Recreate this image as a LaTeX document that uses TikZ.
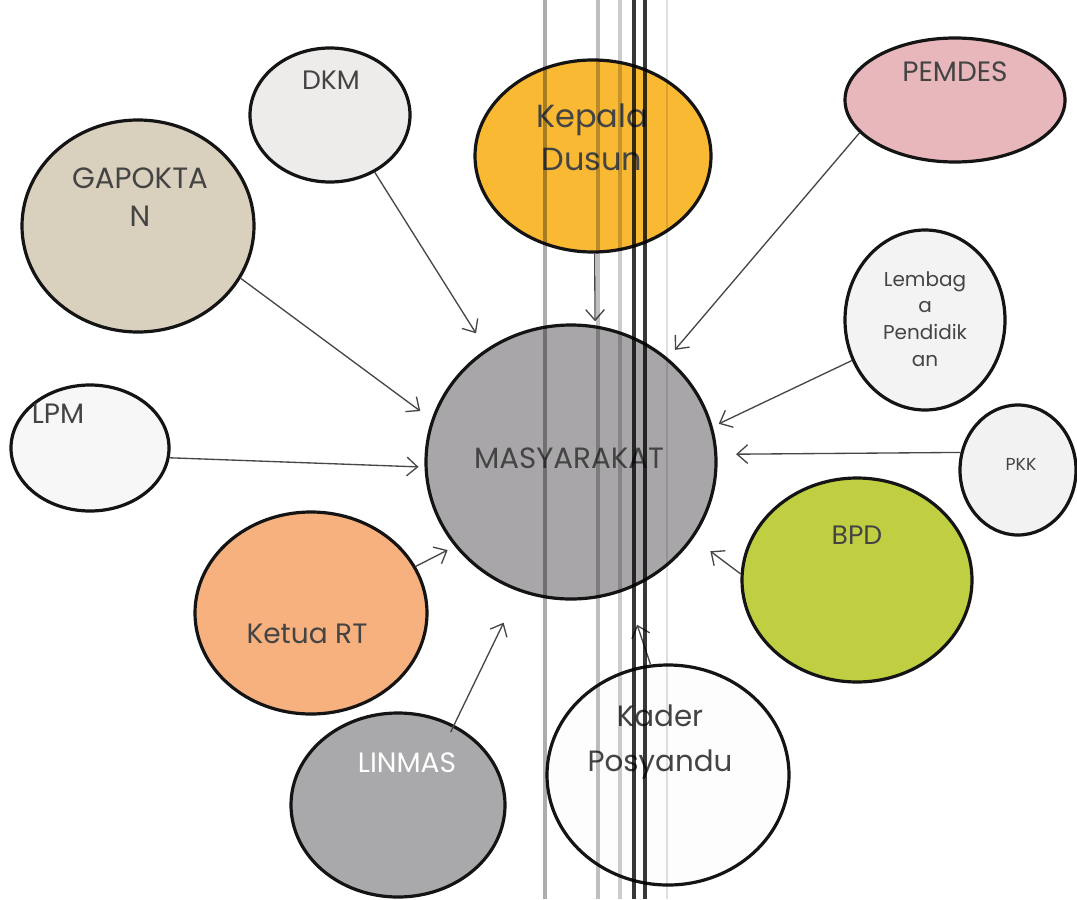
\documentclass[tikz,border=0pt]{standalone}
\usepackage{fontspec}
\setmainfont{Poppins}
\usetikzlibrary{shapes.geometric,arrows.meta}
\definecolor{cKD}{HTML}{F9B933}
\definecolor{cDKM}{HTML}{EEECEB}
\definecolor{cGAP}{HTML}{DAD0BE}
\definecolor{cPEM}{HTML}{E8B7BB}
\definecolor{cLEM}{HTML}{F3F3F3}
\definecolor{cPKK}{HTML}{F2F2F2}
\definecolor{cBPD}{HTML}{C0CF42}
\definecolor{cM}{HTML}{A8A6A8}
\definecolor{cLPM}{HTML}{F7F7F7}
\definecolor{cRT}{HTML}{F6B17F}
\definecolor{cLIN}{HTML}{A9A8AA}
\definecolor{cKAD}{HTML}{FDFDFD}
\definecolor{txt}{HTML}{444444}
\begin{document}
\begin{tikzpicture}[x=0.75pt,y=-0.75pt,
  blob/.style={ellipse,draw=black!92,line width=2.4pt,inner sep=0pt},
  lbl/.style={text=txt,align=center,inner sep=0pt},
  arr/.style={draw=black!72,line width=1pt,-{Straight Barb[length=8pt,width=14pt,line width=1pt]}},
  scanline/.style={blend mode=multiply}]
\fill[white] (0,0) rectangle (1077,899);
\path[use as bounding box] (0,0) rectangle (1077,899);
% circles
\node[blob,fill=cKD,minimum width=236*0.75pt,minimum height=192*0.75pt] (kd) at (593,156) {};
\node[blob,fill=cDKM,minimum width=160*0.75pt,minimum height=134*0.75pt] (dkm) at (330,115) {};
\node[blob,fill=cGAP,minimum width=232*0.75pt,minimum height=212*0.75pt] (gap) at (138,226) {};
\node[blob,fill=cPEM,minimum width=220*0.75pt,minimum height=124*0.75pt] (pem) at (955,100) {};
\node[blob,fill=cLEM,minimum width=160*0.75pt,minimum height=180*0.75pt] (lem) at (925,320) {};
\node[blob,fill=cPKK,minimum width=116*0.75pt,minimum height=130*0.75pt] (pkk) at (1018,470) {};
\node[blob,fill=cBPD,minimum width=230*0.75pt,minimum height=204*0.75pt] (bpd) at (857,580) {};
\node[blob,fill=cM,minimum width=290*0.75pt,minimum height=274*0.75pt] (m) at (571,462) {};
\node[blob,fill=cLPM,minimum width=158*0.75pt,minimum height=126*0.75pt] (lpm) at (90,448) {};
\node[blob,fill=cRT,minimum width=232*0.75pt,minimum height=202*0.75pt] (rt) at (311,613) {};
\node[blob,fill=cLIN,minimum width=214*0.75pt,minimum height=184*0.75pt] (lin) at (398,805) {};
\node[blob,fill=cKAD,minimum width=242*0.75pt,minimum height=220*0.75pt] (kad) at (668,775) {};
% labels
\node[lbl,font=\fontsize{24}{32}\selectfont] (kdt) at (592,137) {Kepala\\Dusun};
\node[lbl,font=\fontsize{20}{24}\selectfont] (dkmt) at (331,80) {DKM};
\node[lbl,font=\fontsize{22}{28}\selectfont] (gapt) at (140,197) {GAPOKTA\\N};
\node[lbl,font=\fontsize{21}{24}\selectfont] (pemt) at (955,72) {PEMDES};
\node[lbl,font=\fontsize{15}{20}\selectfont] (lemt) at (925,319) {Lembag\\a\\Pendidik\\an};
\node[lbl,font=\fontsize{13}{15}\selectfont] (pkkt) at (1021,464) {PKK};
\node[lbl,font=\fontsize{20}{24}\selectfont] (bpdt) at (857,535) {BPD};
\node[lbl,font=\fontsize{22}{26}\selectfont] (mt) at (569,458) {MASYARAKAT};
\node[lbl,font=\fontsize{21}{24}\selectfont] (lpmt) at (58,414) {LPM};
\node[lbl,font=\fontsize{21}{24}\selectfont] (rtt) at (307,634) {Ketua RT};
\node[lbl,text=white,font=\fontsize{21}{24}\selectfont] (lint) at (407,763) {LINMAS};
\node[lbl,font=\fontsize{22}{34}\selectfont] (kadt) at (660,742) {Kader\\Posyandu};
% arrows
\draw[arr,shorten >=14pt] (dkm.-52) -- (m.127);
\draw[arr,shorten >=10.5pt] (gap.-27) -- (m.163);
\draw[arr,shorten >=4.5pt] (lpm.-7) -- (m.-178);
\draw[arr,shorten >=6pt] (rt.24) -- (m.-144);
\draw[arr,shorten >=26pt,shorten <=-6pt] (lin.55) -- (m.-112);
\draw[arr,shorten >=27pt] (kad.99) -- (m.-67);
\draw[arr,shorten >=16pt] (bpd.177) -- (m.-32);
\draw[arr,shorten >=14pt] (pkk.163) -- (m.3.5);
\draw[arr,shorten >=5pt] (lem.-151) -- (m.14);
\draw[arr,shorten >=8pt] (pem.-161) -- (m.47);
\draw[arr,shorten >=3pt] (kd.-89) -- (m.80);
% scan artefact lines
\draw[scanline,draw=black!32,line width=3.2pt] (545,0) -- (545,899);
\draw[scanline,draw=black!25,line width=2.5pt] (598,0) -- (598,899);
\draw[scanline,draw=black!20,line width=2.5pt] (620,0) -- (620,899);
\draw[scanline,draw=black!78,line width=2.4pt] (634,0) -- (634,899);
\draw[scanline,draw=black!78,line width=2.4pt] (645,0) -- (645,899);
\draw[scanline,draw=black!12,line width=2pt] (667,0) -- (667,899);
\end{tikzpicture}
\end{document}
